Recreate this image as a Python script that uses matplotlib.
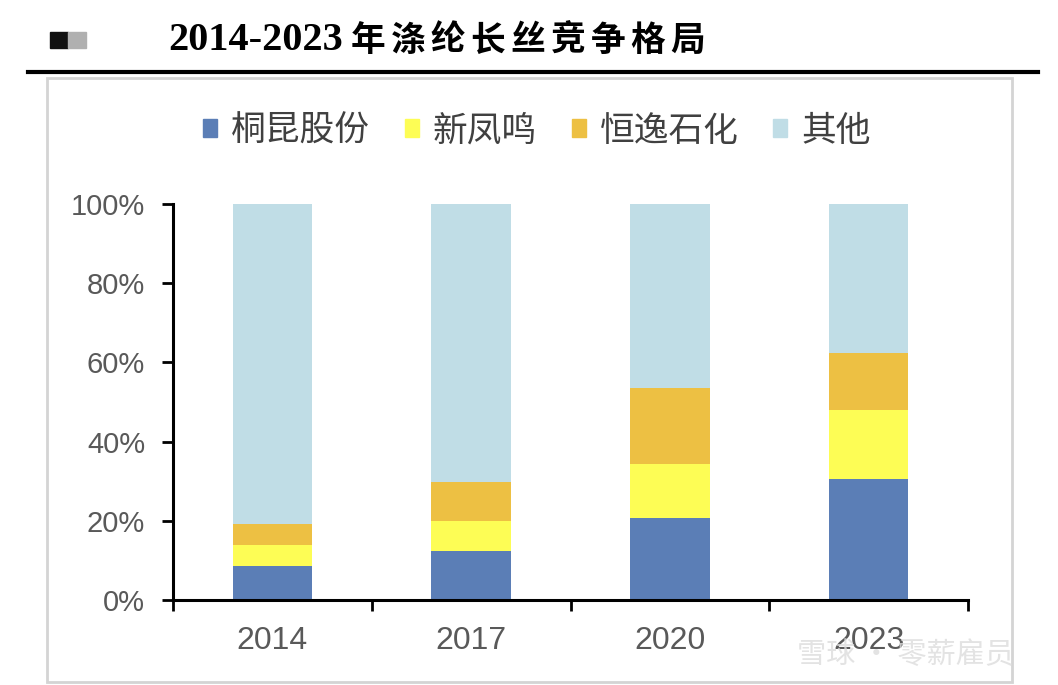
import matplotlib
matplotlib.use("Agg")
import matplotlib.pyplot as plt
from matplotlib.patches import Rectangle
from matplotlib.lines import Line2D
import numpy as np

plt.rcParams['font.family'] = ['Liberation Sans', 'Noto Sans CJK SC', 'DejaVu Sans']

years = ["2014", "2017", "2020", "2023"]
series_names = ["桐昆股份", "新凤鸣", "恒逸石化", "其他"]
tongkun = [8.6, 12.4, 20.7, 30.6]
xinfengming = [5.3, 7.6, 13.7, 17.5]
hengyi = [5.3, 9.9, 19.1, 14.4]
others = [80.8, 70.1, 46.5, 37.5]
yticks = [0, 20, 40, 60, 80, 100]
ytick_labels = ["0%", "20%", "40%", "60%", "80%", "100%"]
title_years = "2014-2023"
title_words = "年涤纶长丝竞争格局"
watermark = "雪球 · 零薪雇员"

colors = ["#5B7EB6", "#FDFD55", "#EDC043", "#C0DDE6"]

W, H = 1058, 685
fig = plt.figure(figsize=(W / 100, H / 100), dpi=100)

def fx(x): return x / W
def fy(y): return 1 - y / H

# header decorations
fig.patches.append(Rectangle((fx(50), fy(48)), fx(18), 16 / H, transform=fig.transFigure, color="#111111"))
fig.patches.append(Rectangle((fx(68), fy(48)), fx(18), 16 / H, transform=fig.transFigure, color="#b0b0b0"))
fig.lines.append(Line2D([fx(28), fx(1038)], [fy(72), fy(72)], transform=fig.transFigure, color="black", lw=3))
fig.patches.append(Rectangle((fx(47), fy(682)), fx(1012 - 47), (682 - 78) / H, transform=fig.transFigure,
                             fill=False, edgecolor="#d4d4d4", lw=2))

# title: years in serif bold, then spaced CJK characters
fig.text(fx(168), fy(41), title_years, fontsize=29, fontweight="bold",
         family=["Liberation Serif"], va="center", ha="left", color="black")
for i, ch in enumerate(title_words):
    fig.text(fx(350 + i * 40 + 18), fy(40), ch, fontsize=25, fontweight="bold",
             family=["Noto Sans CJK SC"], va="center", ha="center", color="black")

ax = fig.add_axes([fx(173), fy(600), fx(968 - 173), (600 - 204) / H])
x = np.arange(len(years))
bottom = np.zeros(len(years))
for vals, c, name in zip([tongkun, xinfengming, hengyi, others], colors, series_names):
    ax.bar(x, vals, width=0.4, bottom=bottom, color=c, label=name, zorder=2)
    bottom += np.array(vals)

ax.set_xlim(-0.5, len(years) - 0.5)
ax.set_ylim(0, 100)
ax.set_yticks(yticks)
ax.set_yticklabels(ytick_labels)
ax.set_xticks(x)
ax.set_xticklabels(years)
ax.set_xticks(np.arange(-0.5, len(years)), minor=True)
ax.tick_params(axis="x", which="major", length=0, pad=19, labelsize=23, labelcolor="#595959")
ax.tick_params(axis="x", which="minor", length=8, width=2, direction="out", color="black")
ax.tick_params(axis="y", length=8, width=2, direction="out", pad=12, labelsize=21, labelcolor="#595959")
for s in ["top", "right"]:
    ax.spines[s].set_visible(False)
for s in ["left", "bottom"]:
    ax.spines[s].set_linewidth(2.2)
    ax.spines[s].set_color("black")

handles = [Rectangle((0, 0), 1, 1, color=c) for c in colors]
fig.legend(handles, series_names, loc="center", bbox_to_anchor=(fx(537), fy(131)), ncol=4,
           frameon=False, handlelength=0.4, handleheight=0.4, handletextpad=0.4,
           columnspacing=1.0, labelcolor="#404040", prop={"family": ["Noto Sans CJK SC"], "size": 25})

fig.text(fx(905), fy(655), watermark, fontsize=21, color="#dcdcdc", alpha=0.8,
         family=["Noto Sans CJK SC"], ha="center", va="center")

fig.savefig("out.png", dpi=100)
